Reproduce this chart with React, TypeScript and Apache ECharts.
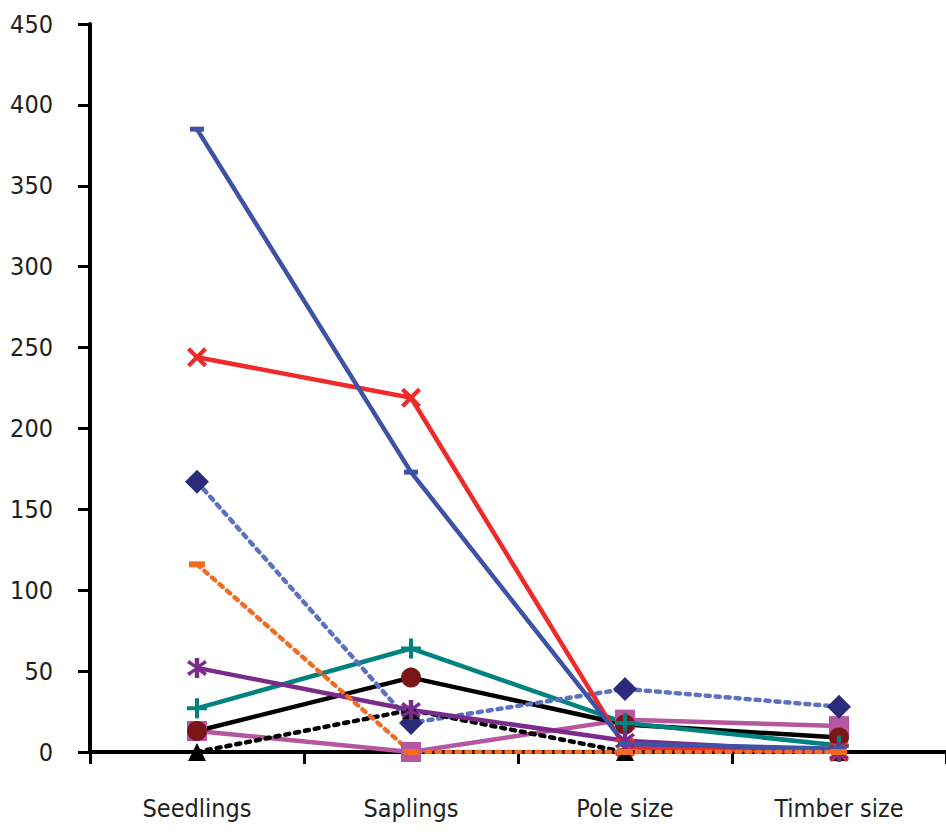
import React, { useEffect, useRef } from "react";
import * as echarts from "echarts";

const categories = ["Seedlings", "Saplings", "Pole size", "Timber size"];
const yTicks = { min: 0, max: 450, interval: 50 };

const blueSolid = [385, 173, 5, 2];
const redCross = [244, 219, 3, 0];
const blueDashedDiamond = [167, 18, 39, 28];
const orangeDash = [116, 0, 0, 0];
const tealPlus = [27, 64, 18, 4];
const blackCircle = [13, 46, 17, 9];
const purpleStar = [52, 26, 7, 0];
const pinkSquare = [13, 0, 20, 16];
const blackDashedTriangle = [0, 26, 0, 0];

const FONT = "'DejaVu Sans Condensed', 'Liberation Sans Narrow', 'Roboto Condensed', 'Noto Sans', sans-serif";

const DASH = "path://M0,0 H16 V5 H0 Z";
const XMARK = "path://M3,0 L10,7 L17,0 L20,3 L13,10 L20,17 L17,20 L10,13 L3,20 L0,17 L7,10 L0,3 Z";
const PLUS = "path://M8,0 H12 V8 H20 V12 H12 V20 H8 V12 H0 V8 H8 Z";
const STAR = "path://M8,0 H12 V20 H8 Z M3,2 L10,8 L17,2 L19,5 L12,10 L19,15 L17,18 L10,12 L3,18 L1,15 L8,10 L1,5 Z";

export default function App() {
  const ref = useRef<HTMLDivElement>(null);
  useEffect(() => {
    if (!ref.current) return;
    const chart = echarts.init(ref.current, undefined, { renderer: "svg" });
    const mk = (
      name: string,
      data: number[],
      lineColor: string,
      markColor: string,
      symbol: string,
      symbolSize: number | number[],
      dashed = false
    ) => ({
      name,
      type: "line",
      data,
      symbol,
      symbolSize,
      showSymbol: true,
      lineStyle: {
        color: lineColor,
        width: 4.5,
        type: dashed ? [4, 6] : "solid",
        cap: dashed ? "round" : "butt",
      },
      itemStyle: { color: markColor, borderWidth: 0, opacity: 1 },
      emphasis: { disabled: true },
    });
    chart.setOption({
      animation: false,
      backgroundColor: "#ffffff",
      grid: { left: 90, right: -4, top: 24, bottom: 80, containLabel: false },
      xAxis: {
        type: "category",
        data: categories,
        boundaryGap: true,
        axisLine: { show: true, lineStyle: { color: "#000", width: 4 } },
        axisTick: { show: true, alignWithLabel: false, length: 12, lineStyle: { color: "#000", width: 3 } },
        axisLabel: {
          color: "#231F20",
          fontFamily: FONT,
          fontSize: 25,
          margin: 44,
          interval: 0,
        },
        splitLine: { show: false },
      },
      yAxis: {
        type: "value",
        min: yTicks.min,
        max: yTicks.max,
        interval: yTicks.interval,
        axisLine: { show: true, lineStyle: { color: "#000", width: 4 } },
        axisTick: { show: true, length: 12, lineStyle: { color: "#000", width: 3 } },
        axisLabel: {
          color: "#231F20",
          fontFamily: FONT,
          fontSize: 25,
          margin: 37,
        },
        splitLine: { show: false },
      },
      series: [
        mk("pink", pinkSquare, "#B655A0", "#B655A0", "rect", 20),
        mk("blackCircle", blackCircle, "#000000", "#7B1618", "circle", 20),
        mk("teal", tealPlus, "#00827E", "#00827E", PLUS, 20),
        mk("blueDashed", blueDashedDiamond, "#5A72BF", "#2B2B7B", "diamond", 24, true),
        mk("blackDashed", blackDashedTriangle, "#000000", "#000000", "triangle", 18, true),
        mk("red", redCross, "#EE2A2A", "#EE2A2A", XMARK, 20),
        mk("purple", purpleStar, "#7B2C8A", "#7B2C8A", STAR, 20),
        mk("blueSolid", blueSolid, "#3F53A6", "#3F53A6", DASH, [14, 5]),
        mk("orange", orangeDash, "#F26B24", "#F26B24", DASH, [16, 6], true),
      ],
    });
    return () => chart.dispose();
  }, []);
  return (
    <div
      ref={ref}
      style={{ width: 946, height: 832, position: "fixed", left: 0, top: 0, background: "#fff" }}
    />
  );
}
